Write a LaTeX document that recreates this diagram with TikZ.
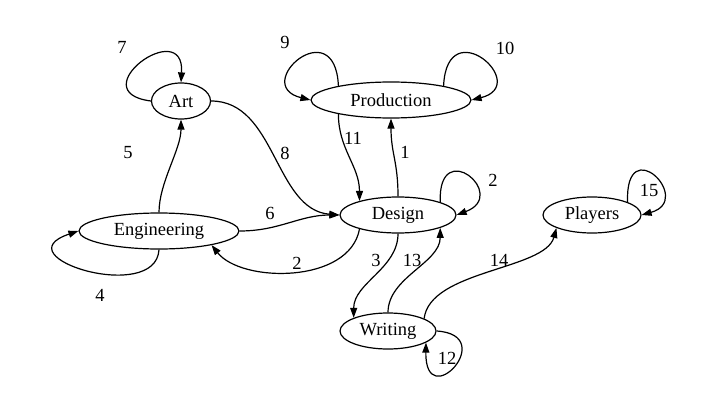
\documentclass[tikz,border=0pt]{standalone}
\usepackage{fontspec}
\setmainfont{Liberation Serif}
\usepackage{tikz}
\usetikzlibrary{arrows.meta,shapes.geometric}

\begin{document}
\begin{tikzpicture}[
  x=1pt, y=-1pt,
  font=\fontsize{18.5}{22}\selectfont,
  state/.style={draw, ellipse, line width=1.2pt, inner sep=0pt, minimum height=36pt},
  arrow/.style={-{Triangle[length=10pt,width=7pt]}, line width=1.2pt},
  lbl/.style={inner sep=0pt}
]
\useasboundingbox (0,0) rectangle (727,412);
\node[state, minimum width=59pt] (art) at (181,101) {Art};
\node[state, minimum width=160pt] (prod) at (391,100) {Production};
\node[state, minimum width=160pt] (eng) at (159,231) {Engineering};
\node[state, minimum width=116pt] (design) at (398,215) {Design};
\node[state, minimum width=96pt] (writing) at (388,331) {Writing};
\node[state, minimum width=98pt] (players) at (592,215) {Players};
% edges
\draw[arrow] (art.west) .. controls (80,92) and (185,15) .. (art.north);
\draw[arrow] (eng.north) .. controls +(0,-30) and +(0,30) .. (art.south);
\draw[arrow] (art.east) .. controls +(65,0) and +(-65,-5) .. (design.west);
\draw[arrow] (eng.east) .. controls +(40,0) and +(-40,0) .. (design.west);
\draw[arrow] (design.200) .. controls +(-10,55) and +(30,38) .. (eng.-15);
\draw[arrow] (eng.south) .. controls +(-3,55) and +(-78,26) .. (eng.west);
\draw[arrow] (prod.165) .. controls (335,10) and (250,85) .. (prod.west);
\draw[arrow] (prod.15) .. controls (447,10) and (532,85) .. (prod.east);
\draw[arrow] (prod.195) .. controls +(0,35) and +(0,-35) .. (design.160);
\draw[arrow] (design.north) .. controls +(0,-35) and +(0,35) .. (prod.south);
\draw[arrow] (design.17) .. controls (438,135) and (510,195) .. (design.east);
\draw[arrow] (design.south) .. controls +(0,35) and +(0,-35) .. (writing.159);
\draw[arrow] (writing.north) .. controls +(0,-35) and +(0,35) .. (design.-17);
\draw[arrow] (writing.east) .. controls (500,335) and (425,415) .. (writing.-17);
\draw[arrow] (writing.19) .. controls (430,270) and (545,270) .. (players.200);
\draw[arrow] (players.20) .. controls (625,130) and (695,200) .. (players.east);
% edge labels
\node[lbl] (l7) at (122,47) {7};
\node[lbl] (l5) at (128,153) {5};
\node[lbl] (l8) at (285,153) {8};
\node[lbl] (l6) at (270,213) {6};
\node[lbl] (l2a) at (297,263) {2};
\node[lbl] (l4) at (100,295) {4};
\node[lbl] (l9) at (285,42) {9};
\node[lbl] (l10) at (505,48) {10};
\node[lbl] (l11) at (353,138) {11};
\node[lbl] (l1) at (405,152) {1};
\node[lbl] (l2b) at (493,180) {2};
\node[lbl] (l3) at (376,260) {3};
\node[lbl] (l13) at (412,260) {13};
\node[lbl] (l12) at (447,358) {12};
\node[lbl] (l14) at (499,260) {14};
\node[lbl] (l15) at (649,190) {15};
\end{tikzpicture}
\end{document}
